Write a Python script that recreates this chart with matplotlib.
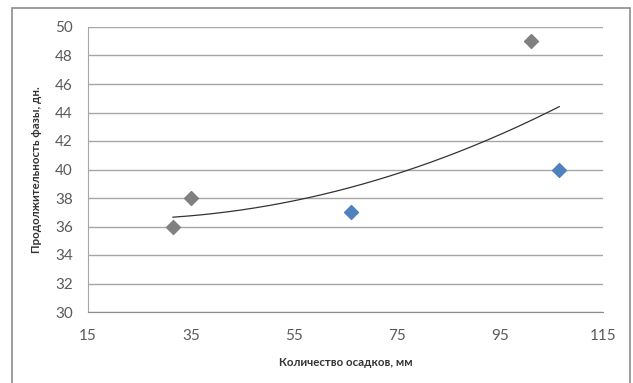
import numpy as np
import matplotlib
matplotlib.use("Agg")
import matplotlib.pyplot as plt
from matplotlib.patches import Rectangle

# Precipitation (mm) vs. phase duration (days)
precip_grey = [31.5, 35, 101]
days_grey = [36, 38, 49]
precip_blue = [66, 106.5]
days_blue = [37, 40]

x_ticks = [15, 35, 55, 75, 95, 115]
y_ticks = [30, 32, 34, 36, 38, 40, 42, 44, 46, 48, 50]

font = ["Lato", "DejaVu Sans"]

fig = plt.figure(figsize=(6.33, 3.83), dpi=100)
ax = fig.add_axes([88 / 633, 1 - 312 / 383, (603 - 88) / 633, (312 - 27) / 383])

# chart frame
fig.patches.append(Rectangle((12 / 633, -0.1), (630 - 12) / 633, 1.1 - 8 / 383,
                             transform=fig.transFigure, fill=False,
                             edgecolor="#8c8c8c", linewidth=1.2))

ax.set_xlim(15, 115)
ax.set_ylim(30, 50)
ax.set_xticks(x_ticks)
ax.set_yticks(y_ticks)
ax.grid(axis="y", color="#a6a6a6", linewidth=1.0)
ax.set_axisbelow(True)
for side in ["top", "right"]:
    ax.spines[side].set_visible(False)
ax.spines["left"].set_color("#a6a6a6")
ax.spines["bottom"].set_color("#8c8c8c")
ax.tick_params(length=0, labelsize=11, labelcolor="#5a5a5a")
ax.tick_params(axis="y", pad=11)
ax.tick_params(axis="x", pad=12)
for lbl in ax.get_xticklabels() + ax.get_yticklabels():
    lbl.set_family(font)

# polynomial trend over all observations
x_all = np.array(precip_grey + precip_blue)
y_all = np.array(days_grey + days_blue)
coef = np.polyfit(x_all, y_all, 2)
xs = np.linspace(x_all.min(), x_all.max(), 200)
ax.plot(xs, np.polyval(coef, xs), color="#333333", linewidth=0.9)

ax.scatter(precip_grey, days_grey, marker="D", s=50, color="#808080", zorder=3)
ax.scatter(precip_blue, days_blue, marker="D", s=50, color="#4f81bd", zorder=3)

ax.set_xlabel("Количество осадков, мм", family=font, fontsize=8.3,
              fontweight="bold", color="#333333", labelpad=10)
ax.set_ylabel("Продолжительность фазы, дн.", family=font, fontsize=8.3,
              fontweight="bold", color="#333333", labelpad=9)

fig.savefig("out.png", dpi=100)
